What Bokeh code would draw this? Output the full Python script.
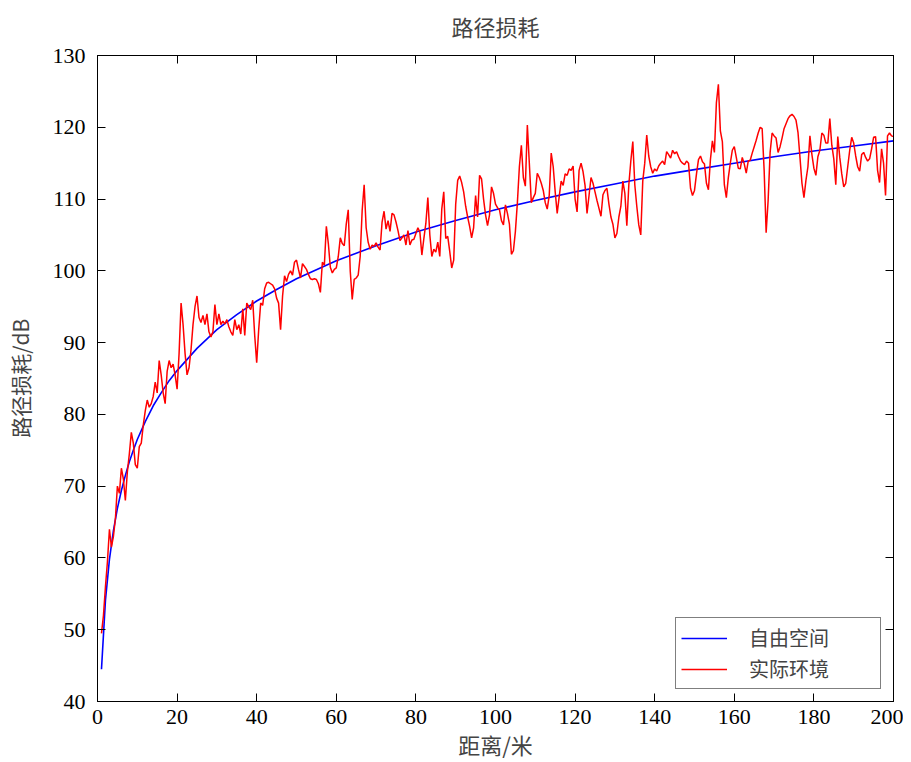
from bokeh.plotting import figure
from bokeh.models import (Range1d, LinearAxis, SingleIntervalTicker, Legend, LegendItem,
                          CustomJSTickFormatter, CustomLabelingPolicy)
from bokeh.embed import file_html
from bokeh.resources import INLINE
import numpy as np

# 自由空间 (free-space) curve, read at key distances
free_d = [1, 2, 3, 4, 5, 6, 7, 8, 9, 10, 12, 14, 16, 18, 20, 25, 30, 35, 40, 45, 50,
          60, 70, 80, 90, 100, 110, 120, 130, 140, 150, 160, 170, 180, 190, 200]
free_loss = [44.5, 54.1, 59.8, 63.8, 66.9, 69.4, 71.5, 73.4, 75.0, 76.5, 79.0, 81.2, 83.0,
             84.7, 86.1, 89.2, 91.8, 93.9, 95.8, 97.4, 98.9, 101.4, 103.5, 105.4, 107.0,
             108.5, 109.8, 111.0, 112.1, 113.2, 114.1, 115.0, 115.9, 116.7, 117.4, 118.1]

# 实际环境 (measured) samples every 0.5 m from 1 m to 200 m
real_loss = [
    49.5, 52, 56, 59.5, 64, 61.5, 63, 65.5, 70, 69, 72.5, 71, 68, 72, 74.5, 77.5, 76, 73, 72.5, 75.5,
    76, 78.5, 80.5, 82, 81, 81.5, 82.5, 84.5, 83, 87.5, 85.5, 83, 81.5, 86, 87.5, 86.5, 87, 85.5, 83.5, 88.5,
    95.5, 92.5, 88.5, 85.5, 86.5, 89, 92.5, 95, 96.5, 93.5, 92.8, 93.8, 92.5, 94, 91.5, 90.8, 91.5, 95.3, 92.5, 94,
    92.5, 93, 92.6, 93.2, 92.2, 91.5, 91, 93.2, 91.8, 92.5, 91.2, 94.7, 91, 95.5, 95, 94.6, 95.9, 91, 87.2, 91.8,
    95.5, 95.2, 97.5, 98.3, 98.4, 98.2, 98, 97.5, 96.2, 95.5, 91.8, 96.5, 99.3, 98.5, 99.5, 100, 99.4, 101.2, 101.5, 100.2,
    99, 101, 100.6, 100.2, 99.5, 98.9, 98.8, 98.9, 98.8, 98.2, 97, 101.2, 100.8, 106.2, 103.8, 100.5, 99.7, 100.2, 100.4, 102,
    104.6, 103.8, 103.5, 106.5, 108.5, 100, 96, 98.8, 99, 99.4, 102, 108.4, 112, 106, 104, 103, 103.6, 103.4, 103.9, 103.3,
    102.9, 106.8, 108.3, 105.8, 107, 105.5, 108, 107.8, 106.8, 105.6, 104.2, 104.6, 105, 103.6, 105.6, 103.6, 104.3, 104.4, 105.2, 106,
    105.4, 102.2, 104.5, 106.6, 110.2, 105, 102, 103, 102.6, 104, 102, 108.6, 111, 104.5, 104.8, 102.7, 100.4, 101.5, 109.3, 112.6,
    113.2, 112.3, 111, 109, 107.5, 106.2, 104.6, 106, 110.5, 107.5, 113.3, 112.8, 110, 107.8, 106.3, 107.8, 111.7, 110.8, 109.3, 108.8,
    108.5, 107, 106.4, 109.2, 108, 106.5, 102.3, 102.8, 105.5, 109.5, 114.5, 117.5, 113, 111.8, 120.3, 115, 109.5, 110.2, 110.8, 113.6,
    113, 112.2, 111.2, 109.5, 108.6, 110.5, 116.4, 114.5, 111, 108, 110.3, 112.5, 111.9, 113.5, 113.3, 114.2, 114, 114.6, 110, 108.2,
    114, 115, 113.8, 111.9, 108, 110.5, 113, 112.2, 111, 109.8, 108.7, 107.6, 110.6, 111.2, 111.5, 109.3, 107.5, 106.5, 104.6, 105.2,
    107.5, 109, 112.5, 110.8, 106.3, 112, 115.3, 118, 112, 109, 106.4, 105, 112.5, 115, 118.9, 116, 114.5, 113.6, 114.2, 113.9,
    114.6, 115, 115.3, 114.8, 116.6, 116.2, 115.7, 116.8, 116.3, 116.6, 115.9, 115.3, 115, 114.8, 115.3, 115, 111.5, 110.5, 111.2, 113.5,
    115.5, 116, 115.2, 114.9, 112.2, 111.3, 115.5, 118.1, 116.5, 123.4, 126, 119.5, 118, 112, 110.2, 113, 115, 116.8, 117.3, 115.8,
    114.3, 114.2, 115.8, 114.9, 113.6, 115.3, 115.4, 116.4, 117.3, 118.2, 119.2, 120, 119.8, 114, 105.3, 109.8, 116.5, 119.2, 118.8, 118.5,
    116.5, 117.3, 118.5, 119.8, 120.5, 121.2, 121.6, 121.8, 121.5, 121, 119.3, 115.8, 112.2, 110.2, 112.6, 114.5, 118.8, 116.2, 114.3, 113.3,
    115.9, 116.8, 119.2, 118.9, 117.8, 117.8, 121.2, 117.5, 115.6, 112, 118.7, 115.8, 113.5, 111.7, 112.2, 114.5, 116.8, 118.6, 117.8, 116,
    114.5, 113.9, 116.2, 116.5, 115.8, 115.3, 115.6, 117, 118.6, 118.7, 114, 112.3, 117, 115, 110.5, 118.8, 119.2, 118.8, 118.7,
]
real_d = list(1 + 0.5 * np.arange(len(real_loss)))

x_ticks_step = 20
y_ticks_step = 10

serif = "Liberation Serif"
cjk = "Noto Sans CJK SC"

p = figure(frame_width=796, frame_height=646,
           x_range=Range1d(0, 200), y_range=Range1d(40, 130),
           x_axis_location=None, y_axis_location=None,
           output_backend="svg", toolbar_location=None,
           min_border_left=97, min_border_right=10, min_border_top=55, min_border_bottom=50)
p.background_fill_color = "white"
p.border_fill_color = "white"
p.outline_line_color = "black"
p.outline_line_width = 1
p.xgrid.visible = False
p.ygrid.visible = False


def make_axis(step, labels=True):
    ax = LinearAxis(ticker=SingleIntervalTicker(interval=step))
    ax.axis_line_color = "black"
    ax.major_tick_line_color = "black"
    ax.major_tick_in = 8
    ax.major_tick_out = 0
    ax.minor_tick_line_color = None
    if labels:
        ax.major_label_text_font = serif
        ax.major_label_text_font_size = "22px"
        ax.major_label_text_color = "black"
    else:
        # mirror axis: ticks only, no labels drawn
        ax.formatter = CustomJSTickFormatter(code="return '';")
        ax.major_label_policy = CustomLabelingPolicy(code="return [];")
        ax.major_label_standoff = 0
    return ax


xb = make_axis(x_ticks_step)
xb.major_label_standoff = 4
xb.axis_label = "距离/米"
xb.axis_label_text_font = cjk
xb.axis_label_text_font_size = "22px"
xb.axis_label_text_font_style = "normal"
xb.axis_label_text_line_height = 1.0
xb.axis_label_standoff = 1
p.add_layout(xb, "below")

yl = make_axis(y_ticks_step)
yl.major_label_standoff = 8
yl.axis_label = "路径损耗/dB"
yl.axis_label_text_font = cjk
yl.axis_label_text_font_size = "21px"
yl.axis_label_text_font_style = "normal"
yl.axis_label_text_line_height = 1.0
yl.axis_label_standoff = 15
p.add_layout(yl, "left")

p.add_layout(make_axis(x_ticks_step, labels=False), "above")
p.add_layout(make_axis(y_ticks_step, labels=False), "right")

p.title.text = "路径损耗"
p.title.align = "center"
p.title.vertical_align = "top"
p.title.text_font = cjk
p.title.text_font_size = "22px"
p.title.text_font_style = "normal"
p.title.text_line_height = 1.0
p.title.standoff = 16

r_free = p.line(free_d, free_loss, line_color="#0000ff", line_width=1.6)
r_real = p.line(real_d, real_loss, line_color="#ff0000", line_width=1.5)

legend = Legend(items=[LegendItem(label="自由空间", renderers=[r_free]),
                       LegendItem(label="实际环境", renderers=[r_real])],
                location="bottom_right")
legend.border_line_color = "black"
legend.border_line_width = 1.3
legend.background_fill_color = "white"
legend.background_fill_alpha = 1
legend.label_text_font = cjk
legend.label_text_font_size = "20px"
legend.glyph_width = 46
legend.glyph_height = 20
legend.label_width = 126
legend.label_standoff = 22
legend.padding = 5
legend.spacing = 2
legend.margin = 12
p.add_layout(legend, "center")

open("out.html", "w").write(file_html(p, INLINE))
